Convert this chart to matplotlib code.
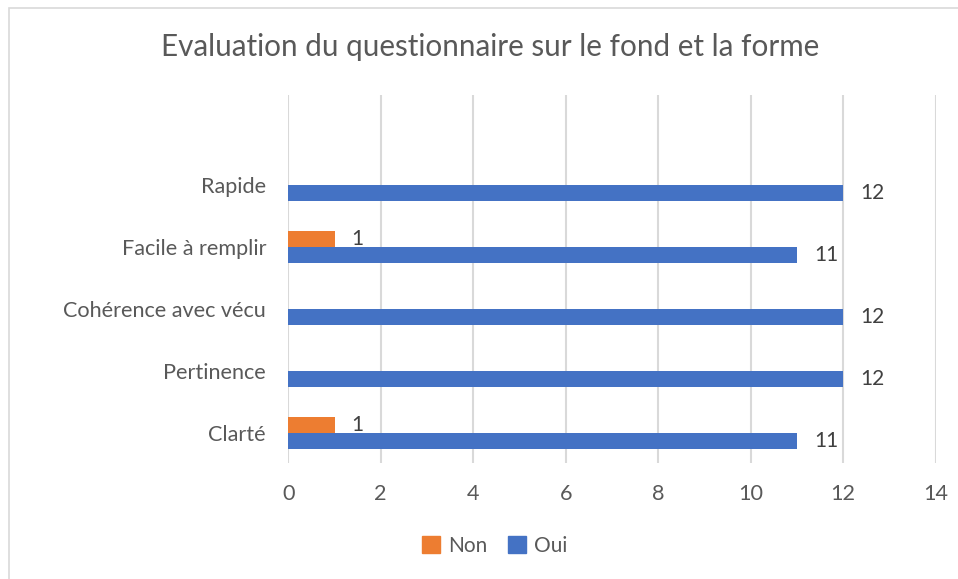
import matplotlib
matplotlib.use('Agg')
import matplotlib.pyplot as plt
from matplotlib.patches import Rectangle, Patch
import numpy as np

plt.rcParams['font.family'] = ['Lato', 'DejaVu Sans']

# Données de l'enquête (de bas en haut)
criteres = ['Clarté', 'Pertinence', 'Cohérence avec vécu', 'Facile à remplir', 'Rapide']
oui = [11, 12, 12, 11, 12]
non = [1, 0, 0, 1, 0]

COULEUR_OUI = '#4472C4'
COULEUR_NON = '#ED7D31'
GRIS_TEXTE = '#595959'

W, H = 958, 579
fig = plt.figure(figsize=(W / 100, H / 100), dpi=100)

# Cadre du graphique
fig.patches.append(Rectangle((9 / W, -0.1), 1.2, 1 - 8 / H + 0.1,
                             transform=fig.transFigure, fill=False,
                             edgecolor='#D9D9D9', linewidth=1.2))

ax = fig.add_axes([288.3 / W, 1 - 463 / H, (935.7 - 288.3) / W, (463 - 95) / H])

y = np.arange(len(criteres))
h = 0.258
barres_oui = ax.barh(y - h / 2, oui, height=h, color=COULEUR_OUI, zorder=3)
barres_non = ax.barh(y + h / 2, non, height=h, color=COULEUR_NON, zorder=3)

# Étiquettes de valeurs
for b, v in zip(barres_oui, oui):
    ax.text(v + 0.37, b.get_y() + b.get_height() / 2, f'{v}',
            va='center', ha='left', fontsize=15, color='#404040')
for b, v in zip(barres_non, non):
    if v > 0:
        ax.text(v + 0.37, b.get_y() + b.get_height() / 2, f'{v}',
                va='center', ha='left', fontsize=15, color='#404040')

ax.set_xlim(0, 14)
ax.set_ylim(-0.484, 5.45)
ax.set_xticks(range(0, 15, 2))
ax.set_yticks(y)
ax.set_yticklabels(criteres)
ax.tick_params(axis='both', length=0, labelsize=15.6, labelcolor=GRIS_TEXTE)
ax.tick_params(axis='y', pad=16)
ax.tick_params(axis='x', pad=15)
ax.grid(True, axis='x', color='#D9D9D9', linewidth=1.5, zorder=0)
for s in ax.spines.values():
    s.set_visible(False)

fig.text(490 / W, 1 - 47 / H, 'Evaluation du questionnaire sur le fond et la forme',
         ha='center', va='center', fontsize=21.3, color=GRIS_TEXTE)

handles = [Patch(color=COULEUR_NON, label='Non'), Patch(color=COULEUR_OUI, label='Oui')]
fig.legend(handles=handles, loc='center', bbox_to_anchor=(495 / W, 1 - 546 / H),
           ncol=2, frameon=False, fontsize=15, labelcolor=GRIS_TEXTE,
           handlelength=0.85, handleheight=0.85, handletextpad=0.4, columnspacing=1.0)

fig.savefig('out.png', dpi=100)
